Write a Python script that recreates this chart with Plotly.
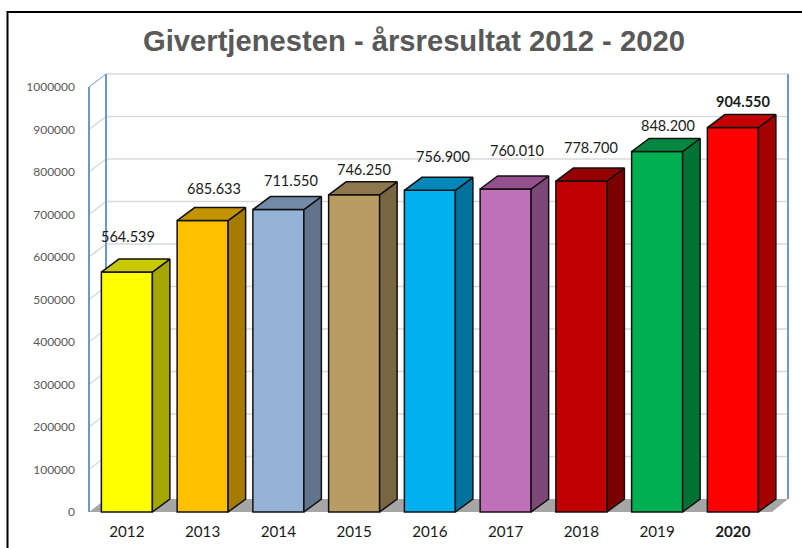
import plotly.graph_objects as go

years = ["2012", "2013", "2014", "2015", "2016", "2017", "2018", "2019", "<b>2020</b>"]
values = [564539, 685633, 711550, 746250, 756900, 760010, 778700, 848200, 904550]
value_labels = ["564.539", "685.633", "711.550", "746.250", "756.900", "760.010", "778.700", "848.200", "<b>904.550</b>"]
y_ticks = [0, 100000, 200000, 300000, 400000, 500000, 600000, 700000, 800000, 900000, 1000000]

front_colors = ["#ffff00", "#ffc000", "#95b3d7", "#b99c64", "#00b0f0", "#c06fb9", "#c00000", "#00b050", "#ff0000"]
side_colors = ["#a6a600", "#a67c00", "#61748c", "#786541", "#00729c", "#7d4878", "#7c0000", "#007234", "#a60000"]
top_colors = ["#c9c900", "#c49400", "#738aa6", "#8e774d", "#0088b9", "#944f8e", "#940000", "#008840", "#c40000"]

# label nudges (px) relative to each bar's front top edge
label_dx = [1, 11, 13, 10, 13, 11, 10, 11, 10]
label_dy = [36, 32, 29, 25, 34, 39, 34, 26, 26]

W, H = 802, 548
PAD = 5
X0, X1, Y1, Y0 = 89, 788, 74, 512  # wall extents in the picture
L, R, T, B = X0 - PAD, X1 + PAD, Y1 - PAD, Y0 + PAD
PX_X = 75.75
PX_Y = 425 / 1e6
wall_right = -0.5 + (X1 - X0) / PX_X
x_range = [-0.5 - PAD / PX_X, wall_right + PAD / PX_X]
y_range = [-PAD / PX_Y, (Y0 - Y1 + PAD) / PX_Y]
DX = 17.5 / PX_X
DY = 13 / PX_Y
BAR_W = 51 / PX_X
x_i = list(range(len(values)))
front_right = wall_right - 16 / PX_X
back_left = -0.5 + 17 / PX_X

GRID = "#d9d9d9"
BLUE = "#6f97cf"
INK = "#111111"

shapes = [dict(type="path", layer="below", fillcolor="#a6a6a6", line_width=0,
               path=f"M -0.5 0 L {front_right} 0 L {wall_right} {DY} L {back_left} {DY} Z")]
for t in y_ticks[1:]:
    shapes.append(dict(type="line", layer="below", x0=back_left, x1=wall_right, y0=t + DY, y1=t + DY,
                       line=dict(color=GRID, width=1.5)))
    if t < y_ticks[-1]:
        shapes.append(dict(type="line", layer="below", x0=-0.5, x1=back_left, y0=t, y1=t + DY,
                           line=dict(color=GRID, width=1.5)))
shapes += [
    dict(type="line", layer="below", x0=-0.5, x1=-0.5, y0=0, y1=y_ticks[-1], line=dict(color=BLUE, width=2)),
    dict(type="line", layer="below", x0=back_left, x1=back_left, y0=DY, y1=y_ticks[-1] + DY, line=dict(color=BLUE, width=2)),
    dict(type="line", layer="below", x0=wall_right, x1=wall_right, y0=DY, y1=y_ticks[-1] + DY, line=dict(color=BLUE, width=2)),
    dict(type="line", layer="below", x0=-0.5, x1=back_left, y0=y_ticks[-1], y1=y_ticks[-1] + DY, line=dict(color=BLUE, width=1)),
]


def px(v):
    return (v - L) / (R - L)


def py(v):
    return (B - v) / (B - T)


shapes.append(dict(type="path", xref="paper", yref="paper", layer="above", line=dict(color="#000000", width=2),
                   path=f"M {px(7.5)} {py(548)} L {px(7.5)} {py(12)} L {px(802)} {py(12)}"))

fig = go.Figure()
fig.add_trace(go.Bar(x=x_i, y=values, width=BAR_W, marker=dict(color=front_colors, line=dict(color=INK, width=1.5)),
                     showlegend=False, hoverinfo="skip"))
for x, v, sc, tc in zip(x_i, values, side_colors, top_colors):
    r = x + BAR_W / 2
    l = x - BAR_W / 2
    fig.add_trace(go.Scatter(x=[r, r + DX, r + DX, r, r], y=[0, DY, v + DY, v, 0], mode="lines", fill="toself",
                             fillcolor=sc, line=dict(color=INK, width=1.5), showlegend=False, hoverinfo="skip"))
    fig.add_trace(go.Scatter(x=[l, l + DX, r + DX, r, l], y=[v, v + DY, v + DY, v, v], mode="lines", fill="toself",
                             fillcolor=tc, line=dict(color=INK, width=1.5), showlegend=False, hoverinfo="skip"))

annotations = [dict(x=x, y=v, text=t, xref="x", yref="y", showarrow=False, xanchor="center", yanchor="middle",
                    xshift=dx, yshift=dy, font=dict(family="Lato", size=14.5, color="#1a1a1a"))
               for x, v, t, dx, dy in zip(x_i, values, value_labels, label_dx, label_dy)]
annotations.append(dict(text="<b>Givertjenesten - årsresultat 2012 - 2020</b>", xref="paper", yref="paper",
                        x=px(413.5), y=py(41), showarrow=False, xanchor="center", yanchor="middle",
                        font=dict(family="Liberation Sans", size=29.2, color="#595959")))

fig.update_layout(
    width=W, height=H, autosize=False,
    margin=dict(l=L, r=W - R, t=T, b=H - B, pad=0),
    paper_bgcolor="#ffffff", plot_bgcolor="#ffffff",
    showlegend=False, shapes=shapes, annotations=annotations,
    xaxis=dict(range=x_range, tickmode="array", tickvals=x_i, ticktext=years, showgrid=False, zeroline=False,
               showline=False, ticks="", automargin=False, ticklabelstandoff=4,
               tickfont=dict(family="Lato", size=15.2, color="#1a1a1a")),
    yaxis=dict(range=y_range, tickmode="array", tickvals=y_ticks, ticktext=[str(t) for t in y_ticks],
               showgrid=False, zeroline=False, showline=False, ticks="", automargin=False, ticklabelstandoff=8,
               tickfont=dict(family="Lato", size=12, color="#595959")),
)
fig.write_html("out.html", post_script="document.body.style.margin='0';", config=dict(displayModeBar=False))
